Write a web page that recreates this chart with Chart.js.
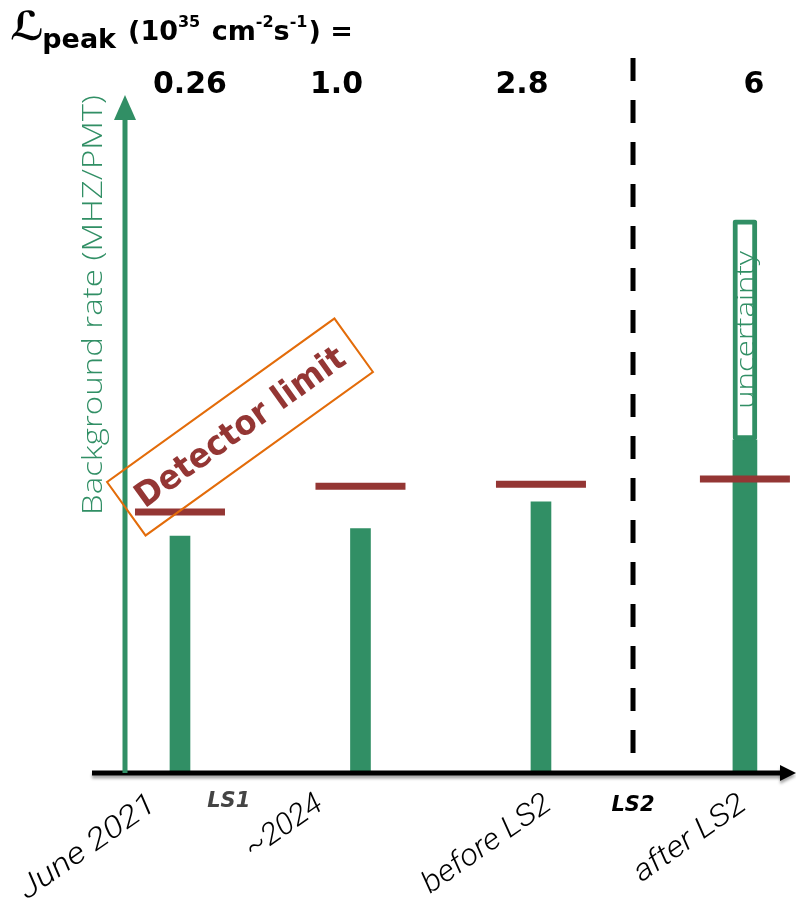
<!DOCTYPE html>
<html><head><meta charset="utf-8">
<script src="https://cdn.jsdelivr.net/npm/chart.js@4/dist/chart.umd.min.js"></script>
<style>html,body{margin:0;padding:0;background:#fff}canvas{display:block}</style>
</head><body>
<canvas id="c" width="796" height="898"></canvas>
<script>
// ---- data ----
const categories = ['June 2021', '~2024', 'before LS2', 'after LS2'];
const categoryPos = [1, 2, 3, 4.13];
const backgroundRate = [35.2, 36.3, 40.3, 49.5];
const detectorLimit = [38.8, 42.6, 42.9, 43.7];
const uncertaintyHigh = [null, null, null, 82.2];
const lumiLabels = ['0.26', '1.0', '2.8', '6'];
const shutdownLabels = ['LS1', 'LS2'];
const shutdownPos = [1.27, 3.51];

const GREEN = '#318f65', RED = '#943634', ORANGE = '#e36c0a';

const pts = (vals, filter) => vals.map((v, i) => ({x: categoryPos[i], y: v})).filter((p, i) => filter(i) && p.y !== null);

function fitText(ctx, t, width) {
  const w = ctx.measureText(t).width;
  ctx.scale(width / w, 1);
}

const decor = {
  id: 'decor',
  afterDatasetsDraw(chart) {
    const ctx = chart.ctx, xs = chart.scales.x, ys = chart.scales.y;
    const y0 = ys.getPixelForValue(0);
    ctx.save();

    // dashed LS2 line
    ctx.strokeStyle = '#000'; ctx.lineWidth = 5; ctx.setLineDash([23, 19]);
    const xl = xs.getPixelForValue(shutdownPos[1]);
    ctx.beginPath(); ctx.moveTo(xl, 58); ctx.lineTo(xl, y0); ctx.stroke();
    ctx.setLineDash([]);

    // x axis arrow
    ctx.save();
    ctx.shadowColor = 'rgba(0,0,0,0.35)'; ctx.shadowOffsetY = 3; ctx.shadowBlur = 3;
    ctx.fillStyle = '#000';
    ctx.fillRect(92, y0 - 2.5, 690, 5);
    ctx.beginPath(); ctx.moveTo(796, y0); ctx.lineTo(780, y0 - 8); ctx.lineTo(780, y0 + 8); ctx.closePath(); ctx.fill();
    ctx.restore();

    // y axis arrow
    ctx.fillStyle = GREEN;
    ctx.fillRect(122.5, 118, 5, y0 - 118);
    ctx.beginPath(); ctx.moveTo(125, 95); ctx.lineTo(136, 120); ctx.lineTo(114, 120); ctx.closePath(); ctx.fill();

    // y axis title
    ctx.save();
    ctx.translate(102, 305); ctx.rotate(-Math.PI / 2);
    ctx.font = '300 27px "Open Sans", sans-serif';
    ctx.textAlign = 'center'; ctx.textBaseline = 'alphabetic';
    let t = 'Background rate (MHZ/PMT)';
    fitText(ctx, t, 420);
    ctx.fillStyle = GREEN; ctx.fillText(t, 0, 0);
    ctx.restore();

    // category labels (rotated)
    ctx.fillStyle = '#000';
    const labelDx = [-22, -36, 12, 3];
    const labelW = [160, 88, 150, 130];
    categories.forEach((c, i) => {
      const x = xs.getPixelForValue(categoryPos[i]);
      ctx.save();
      ctx.translate(x + labelDx[i], 808);
      ctx.rotate(-35 * Math.PI / 180);
      ctx.font = 'italic 300 30px Roboto, sans-serif';
      ctx.textAlign = 'right'; ctx.textBaseline = 'alphabetic';
      fitText(ctx, c, labelW[i]);
      ctx.fillText(c, 0, 0);
      ctx.restore();
    });

    // LS labels
    ctx.font = 'italic bold 21px "DejaVu Sans", sans-serif';
    ctx.textAlign = 'center'; ctx.textBaseline = 'middle';
    ctx.fillStyle = '#444';
    ctx.fillText(shutdownLabels[0], xs.getPixelForValue(shutdownPos[0]), 802);
    ctx.fillStyle = '#000';
    ctx.fillText(shutdownLabels[1], xs.getPixelForValue(shutdownPos[1]), 806);

    // luminosity labels
    ctx.font = 'bold 30px "DejaVu Sans", sans-serif';
    ctx.textAlign = 'center'; ctx.textBaseline = 'alphabetic';
    ctx.fillStyle = '#000';
    const lumiDx = [10, -24, -19, 9];
    lumiLabels.forEach((l, i) => ctx.fillText(l, xs.getPixelForValue(categoryPos[i]) + lumiDx[i], 93));

    // title
    ctx.textAlign = 'left';
    let x = 10;
    ctx.font = 'bold 40px "DejaVu Sans", sans-serif';
    ctx.fillText('ℒ', x, 40); x += ctx.measureText('ℒ').width - 2;
    const segs = [
      ['peak', 'bold 27px "DejaVu Sans"', 48, 12],
      ['(10', 'bold 27px "DejaVu Sans"', 40, 0],
      ['35', 'bold 16px "DejaVu Sans"', 27, 2],
      [' cm', 'bold 27px "DejaVu Sans"', 40, 0],
      ['-2', 'bold 16px "DejaVu Sans"', 27, 0],
      ['s', 'bold 27px "DejaVu Sans"', 40, 0],
      ['-1', 'bold 16px "DejaVu Sans"', 27, 1],
      [') =', 'bold 27px "DejaVu Sans"', 40, 0]
    ];
    segs.forEach(s => { ctx.font = s[1]; ctx.fillText(s[0], x, s[2]); x += ctx.measureText(s[0]).width + s[3]; });

    // detector limit box + text
    ctx.save();
    ctx.translate(240, 427); ctx.rotate(-35.7 * Math.PI / 180);
    ctx.strokeStyle = ORANGE; ctx.lineWidth = 2;
    ctx.strokeRect(-140, -33, 280, 66);
    ctx.font = 'bold 34px "DejaVu Sans", sans-serif';
    ctx.textAlign = 'center'; ctx.textBaseline = 'middle';
    t = 'Detector limit';
    fitText(ctx, t, 250);
    ctx.fillStyle = RED; ctx.fillText(t, 0, 2);
    ctx.restore();

    // uncertainty text
    const ux = xs.getPixelForValue(categoryPos[3]);
    const uy = (ys.getPixelForValue(uncertaintyHigh[3]) + ys.getPixelForValue(backgroundRate[3])) / 2;
    ctx.save();
    ctx.translate(ux + 2, uy); ctx.rotate(-Math.PI / 2);
    ctx.font = '300 25px "Open Sans", sans-serif';
    ctx.textAlign = 'center'; ctx.textBaseline = 'middle';
    t = 'uncertainty';
    fitText(ctx, t, 158);
    ctx.fillStyle = GREEN; ctx.fillText(t, 0, 0);
    ctx.restore();

    ctx.restore();
  }
};

new Chart(document.getElementById('c'), {
  type: 'bar',
  data: {
    datasets: [
      {
        type: 'scatter', label: 'Detector limit',
        data: pts(detectorLimit, () => true),
        pointStyle: 'line', radius: 45, borderWidth: 7, borderColor: RED, backgroundColor: RED
      },
      {
        label: 'uncertainty',
        data: categoryPos.map((p, i) => uncertaintyHigh[i] === null ? null : {x: p, y: [backgroundRate[i], uncertaintyHigh[i]]}).filter(Boolean),
        backgroundColor: '#fff', borderColor: GREEN, borderWidth: 5, borderSkipped: false, borderRadius: 3,
        barThickness: 24, grouped: false
      },
      {
        label: 'Background rate',
        data: pts(backgroundRate, i => i < 3),
        backgroundColor: GREEN, barThickness: 20, grouped: false
      },
      {
        label: 'Background rate (after LS2)',
        data: pts(backgroundRate, i => i === 3),
        backgroundColor: GREEN, barThickness: 24, grouped: false
      }
    ]
  },
  options: {
    responsive: false, animation: false, devicePixelRatio: 1,
    layout: {autoPadding: false, padding: {left: 92, right: 0, top: 100, bottom: 125}},
    plugins: {legend: {display: false}, tooltip: {enabled: false}},
    scales: {
      x: {type: 'linear', display: false, offset: false, min: 0.5125, max: 4.413},
      y: {display: false, min: 0, max: 100}
    }
  },
  plugins: [decor]
});
</script>
</body></html>
